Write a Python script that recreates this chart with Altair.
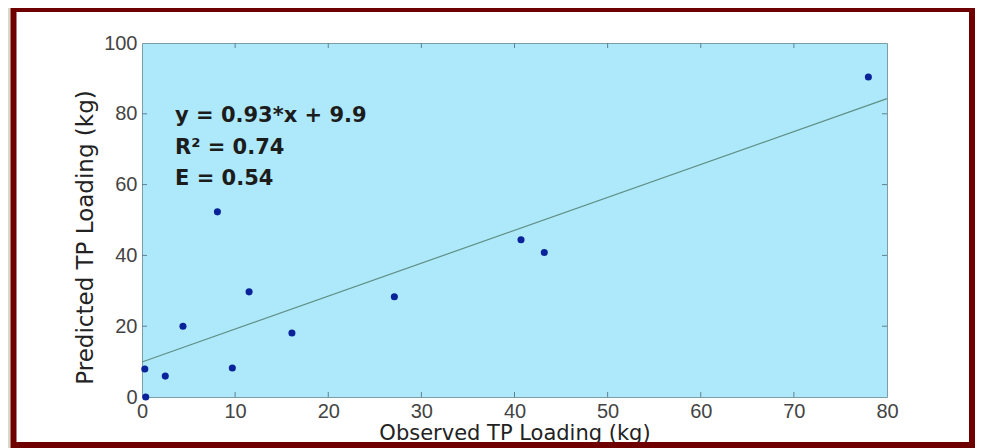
import altair as alt
import pandas as pd

# Observed vs predicted TP loading (kg)
obs = [78.0, 40.7, 43.2, 27.1, 16.1, 11.5, 8.1, 9.7, 4.4, 2.5, 0.3, 0.4]
pred = [90.4, 44.4, 40.8, 28.3, 18.1, 29.7, 52.3, 8.2, 20.0, 5.9, 7.9, 0.0]

# fitted line y = 0.93*x + 9.9, end points
fit_x = [0, 80]
fit_y = [9.9, 84.3]

x_ticks = [0, 10, 20, 30, 40, 50, 60, 70, 80]
y_ticks = [0, 20, 40, 60, 80, 100]

eq_line1 = "y = 0.93*x + 9.9"
eq_line2 = "R² = 0.74"
eq_line3 = "E = 0.54"

W, H = 745, 354

pts = pd.DataFrame({"obs": obs, "pred": pred})
fit = pd.DataFrame({"obs": fit_x, "pred": fit_y})
xt = pd.DataFrame({"obs": x_ticks[1:-1]})
yt = pd.DataFrame({"pred": y_ticks[1:-1]})
one = pd.DataFrame({"k": [0]})

xs = alt.Scale(domain=[0, 80], nice=False, zero=False)
ys = alt.Scale(domain=[0, 100], nice=False, zero=False)

xaxis = alt.Axis(
    values=x_ticks, title="Observed TP Loading (kg)", domain=False, ticks=False,
    grid=False, labelFont="Liberation Sans", labelFontSize=20, labelColor="#444444",
    labelPadding=4, labelFlush=False, labelOverlap=False,
    titleFont="DejaVu Sans", titleFontSize=21, titleFontWeight="normal",
    titleColor="#222222", titlePadding=1,
)
yaxis = alt.Axis(
    values=y_ticks, title="Predicted TP Loading (kg)", domain=False, ticks=False,
    grid=False, labelFont="Liberation Sans", labelFontSize=20, labelColor="#444444",
    labelPadding=5, labelFlush=False, labelOverlap=False,
    titleFont="DejaVu Sans", titleFontSize=23, titleFontWeight="normal",
    titleColor="#222222", titlePadding=6, titleY=194,
)

X = alt.X("obs:Q", scale=xs, axis=xaxis)
Y = alt.Y("pred:Q", scale=ys, axis=yaxis)

outer = alt.Chart(one).mark_rect(fill=None, stroke="#d9dac6", strokeWidth=24).encode(
    x=alt.value(-143.5), x2=alt.value(845), y=alt.value(-49), y2=alt.value(420)
)
frame = alt.Chart(one).mark_rect(fill=None, stroke="#6e0000", strokeWidth=6).encode(
    x=alt.value(-128.5), x2=alt.value(830), y=alt.value(-34), y2=alt.value(402)
)

tick_color = "#5f8290"
tb = alt.Chart(xt).mark_rule(color=tick_color, strokeWidth=1).encode(
    x=X, y=alt.value(H), y2=alt.value(H - 5))
tt = alt.Chart(xt).mark_rule(color=tick_color, strokeWidth=1).encode(
    x=X, y=alt.value(0), y2=alt.value(5))
tl = alt.Chart(yt).mark_rule(color=tick_color, strokeWidth=1).encode(
    y=Y, x=alt.value(0), x2=alt.value(5))
tr = alt.Chart(yt).mark_rule(color=tick_color, strokeWidth=1).encode(
    y=Y, x=alt.value(W), x2=alt.value(W - 5))

line = alt.Chart(fit).mark_line(color="#5f8f84", strokeWidth=1.2).encode(x=X, y=Y)

points = alt.Chart(pts).mark_circle(size=50, color="#0a239a", opacity=1).encode(x=X, y=Y)

def label(txt, yb):
    return alt.Chart(one).mark_text(
        text=txt, font="DejaVu Sans", fontSize=21, fontWeight="bold",
        color="#1c1c1c", align="left", baseline="alphabetic",
    ).encode(x=alt.value(33), y=alt.value(yb))

chart = alt.layer(
    outer, frame, tb, tt, tl, tr, line, points,
    label(eq_line1, 79), label(eq_line2, 111), label(eq_line3, 142),
).properties(
    width=W, height=H,
    autosize=alt.AutoSizeParams(type="none"),
    padding={"left": 134, "top": 35, "right": 88, "bottom": 51},
).configure(background="white").configure_view(fill="#aee9fb", stroke="#7c9ca6", strokeWidth=1)

chart.save("out.html", embed_options={"renderer": "svg", "actions": False})
